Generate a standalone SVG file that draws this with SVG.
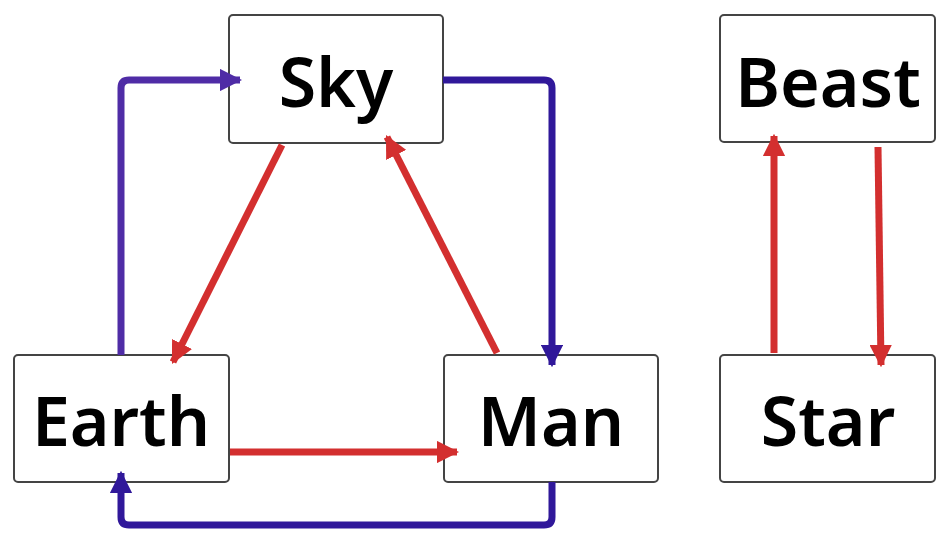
<svg xmlns="http://www.w3.org/2000/svg" width="944" height="545" viewBox="0 0 944 545">
<style>
.box{fill:#fff;stroke:#444;stroke-width:2}
.lbl{font-family:"Noto Sans","Open Sans",sans-serif;font-weight:600;font-size:68px;fill:#000;text-anchor:middle}
.r{stroke:#D32F2F;stroke-width:7;fill:none}
.p{stroke:#4F2CA6;stroke-width:7;fill:none;stroke-linejoin:round}
.b{stroke:#30189A;stroke-width:7;fill:none;stroke-linejoin:round}
</style>
<defs>
<marker id="ar" viewBox="0 0 10 10" refX="9" refY="5" markerWidth="3.2" markerHeight="3.2" markerUnits="strokeWidth" orient="auto"><path d="M0,0L10,5L0,10z" fill="#D32F2F"/></marker>
<marker id="ap" viewBox="0 0 10 10" refX="9" refY="5" markerWidth="3.2" markerHeight="3.2" markerUnits="strokeWidth" orient="auto"><path d="M0,0L10,5L0,10z" fill="#4F2CA6"/></marker>
<marker id="ab" viewBox="0 0 10 10" refX="9" refY="5" markerWidth="3.2" markerHeight="3.2" markerUnits="strokeWidth" orient="auto"><path d="M0,0L10,5L0,10z" fill="#30189A"/></marker>
</defs>
<g id="sky"><rect class="box" x="229" y="15" width="214" height="128" rx="4"/><text class="lbl" x="336" y="107">Sky</text></g>
<g id="earth"><rect class="box" x="14" y="355" width="215" height="127" rx="4"/><text class="lbl" x="121" y="446">Earth</text></g>
<g id="man"><rect class="box" x="444" y="355" width="214" height="127" rx="4"/><text class="lbl" x="551" y="446">Man</text></g>
<g id="beast"><rect class="box" x="720" y="15" width="215" height="127" rx="4"/><text class="lbl" x="828" y="107">Beast</text></g>
<g id="star"><rect class="box" x="720" y="355" width="215" height="127" rx="4"/><text class="lbl" x="828" y="446">Star</text></g>
<g id="connectors">
<path class="p" d="M121,355V88Q121,80 129,80H240" marker-end="url(#ap)"/>
<path class="b" d="M443,80H544Q552,80 552,88V365" marker-end="url(#ab)"/>
<path class="b" d="M552,482V517Q552,525 544,525H129Q121,525 121,517V473" marker-end="url(#ab)"/>
<path class="r" d="M282,145L173,362" marker-end="url(#ar)"/>
<path class="r" d="M497,353L387,137" marker-end="url(#ar)"/>
<path class="r" d="M230,452H457" marker-end="url(#ar)"/>
<path class="r" d="M774,353V136" marker-end="url(#ar)"/>
<path class="r" d="M878,147L881,365" marker-end="url(#ar)"/>
</g>
</svg>
